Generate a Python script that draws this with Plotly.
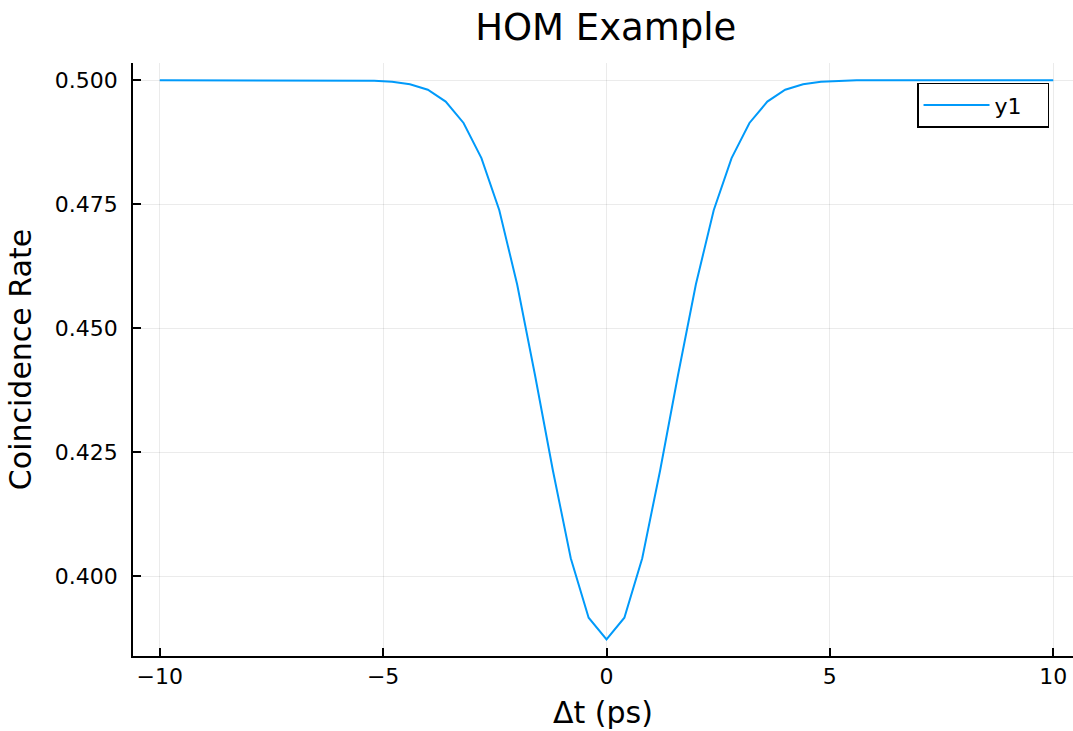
import plotly.graph_objects as go

# Δt values (ps)
dt = [-10.0, -9.6, -9.2, -8.8, -8.4, -8.0, -7.6, -7.2, -6.8, -6.4, -6.0, -5.6, -5.2,
      -4.8, -4.4, -4.0, -3.6, -3.2, -2.8, -2.4, -2.0, -1.6, -1.2, -0.8, -0.4, 0.0,
      0.4, 0.8, 1.2, 1.6, 2.0, 2.4, 2.8, 3.2, 3.6, 4.0, 4.4, 4.8, 5.2, 5.6, 6.0,
      6.4, 6.8, 7.2, 7.6, 8.0, 8.4, 8.8, 9.2, 9.6, 10.0]

# coincidence rate
rate = [0.5000, 0.5000, 0.5000, 0.5000, 0.5000, 0.5000, 0.5000, 0.5000, 0.5000, 0.5000,
        0.5000, 0.5000, 0.4999,
        0.4997, 0.4992, 0.4981, 0.4957, 0.4914, 0.4843, 0.4738, 0.4588, 0.4405, 0.4213,
        0.4036, 0.3916, 0.3872,
        0.3916, 0.4036, 0.4213, 0.4405, 0.4588, 0.4738, 0.4843, 0.4914, 0.4957, 0.4981,
        0.4992, 0.4997, 0.4999, 0.5000, 0.5000, 0.5000, 0.5000, 0.5000, 0.5000, 0.5000,
        0.5000, 0.5000, 0.5000, 0.5000, 0.5000]

x_ticks = [-10, -5, 0, 5, 10]
x_tick_labels = ["\u221210", "\u22125", "0", "5", "10"]
y_ticks = [0.400, 0.425, 0.450, 0.475, 0.500]
y_tick_labels = ["0.400", "0.425", "0.450", "0.475", "0.500"]

FONT = "DejaVu Sans"

fig = go.Figure()
fig.add_trace(go.Scatter(x=dt, y=rate, mode="lines", name="y1\u00a0\u00a0\u00a0",
                         line=dict(color="#009AFA", width=2)))

fig.update_layout(
    width=1073, height=731,
    margin=dict(l=133, r=0, t=63, b=75),
    paper_bgcolor="white", plot_bgcolor="white",
    font=dict(family=FONT, color="black"),
    title=dict(text="HOM Example", x=0.5645, xref="container", xanchor="center",
               y=1 - 27 / 731, yref="container", yanchor="middle",
               font=dict(size=37, family=FONT, color="black")),
    showlegend=True,
    legend=dict(x=0.9745, y=0.9668, xanchor="right", yanchor="top",
                bgcolor="white", bordercolor="black", borderwidth=1.5,
                itemwidth=66,
                font=dict(size=22, family=FONT, color="black")),
)

fig.update_xaxes(
    range=[-10.6, 10.443], tickvals=x_ticks, ticktext=x_tick_labels,
    showline=True, linecolor="black", linewidth=1.8, mirror=False,
    ticks="inside", ticklen=8, tickcolor="black", tickwidth=1.5,
    showgrid=True, gridcolor="rgba(0,0,0,0.08)", gridwidth=1, zeroline=False,
    tickfont=dict(size=22, family=FONT, color="black"),
    title=dict(text="\u0394t (ps)", font=dict(size=30, family=FONT, color="black"), standoff=14),
)
fig.update_yaxes(
    range=[0.38387, 0.50349], tickvals=y_ticks, ticktext=y_tick_labels,
    showline=True, linecolor="black", linewidth=1.8, mirror=False,
    ticks="inside", ticklen=8, tickcolor="black", tickwidth=1.5,
    ticklabelstandoff=9,
    showgrid=True, gridcolor="rgba(0,0,0,0.08)", gridwidth=1, zeroline=False,
    tickfont=dict(size=22, family=FONT, color="black"),
    title=dict(text="Coincidence Rate", font=dict(size=30, family=FONT, color="black"), standoff=14),
)

fig.write_html("out.html")
